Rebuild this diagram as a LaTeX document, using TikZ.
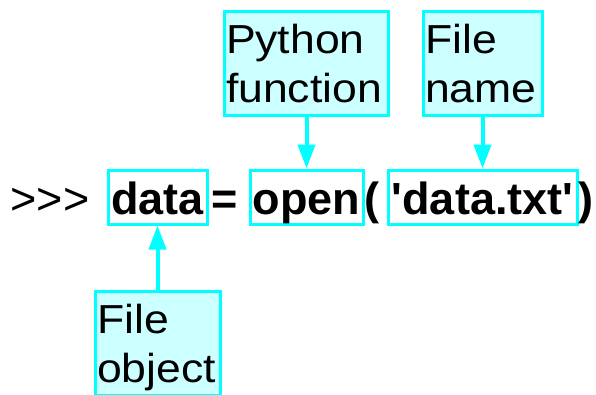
\documentclass[tikz,border=0pt]{standalone}
\usepackage{fontspec}
\setmainfont{Liberation Sans}[Ligatures=TeXOff]
\newfontfamily\labelfont{Liberation Sans}[FakeStretch=1.1,Ligatures=TeXOff]
\usetikzlibrary{arrows.meta}
\definecolor{boxcyan}{HTML}{00FFFF}
\definecolor{boxfill}{HTML}{CCFFFF}
\tikzset{
  codebox/.style={draw=boxcyan, line width=3pt, inner xsep=0pt, inner ysep=0pt,
    text height=44pt, text depth=10pt, anchor=base,
    font=\fontsize{45pt}{54pt}\selectfont\bfseries},
  codetext/.style={inner sep=0pt, anchor=base, font=\fontsize{45pt}{54pt}\selectfont},
  labelbox/.style={draw=boxcyan, fill=boxfill, line width=3pt, outer sep=0pt,
    inner xsep=2pt, inner ysep=0pt, align=left, anchor=north west,
    font=\labelfont\fontsize{40.5pt}{49pt}\selectfont},
  arr/.style={draw=boxcyan, line width=4pt, -{Triangle[length=24pt,width=17pt]}}
}
\newcommand{\topstrut}{\rule{0pt}{42pt}}
\newcommand{\botstrut}{\rule[-13pt]{0pt}{13pt}}
\begin{document}
\begin{tikzpicture}[x=1pt,y=-1pt]
\useasboundingbox (0,0) rectangle (596,394);
\clip (0,0) rectangle (596,394);
% code line
\node[codetext, anchor=base west] (prompt) at (10.5,214) {>>>};
\node[codebox, minimum width=99pt] (data) at (157.5,214) {data};
\node[codetext, font=\fontsize{45pt}{54pt}\selectfont\bfseries] (eq) at (225,214) {=};
\node[codebox, minimum width=113pt] (open) at (306.5,214) {open};
\node[codetext, font=\fontsize{45pt}{54pt}\selectfont\bfseries] (lp) at (372,214) {(};
\node[codebox, minimum width=189pt] (fname) at (482.5,214) {'data.txt'};
\node[codetext, font=\fontsize{45pt}{54pt}\selectfont\bfseries] (rp) at (586,214) {)};
% labels
\node[labelbox, text width=160pt] (pyf) at (224,11) {\topstrut Python\\function\botstrut};
\node[labelbox, text width=115pt] (fnm) at (423,11) {\topstrut File\\name\botstrut};
\node[labelbox, text width=121pt] (fobj) at (95,291) {\topstrut File\\object\botstrut};
% arrows
\draw[arr] (pyf.south -| open.north) -- (open.north);
\draw[arr] (fnm.south -| fname.north) -- (fname.north);
\draw[arr] (fobj.north -| data.south) -- (data.south);
\end{tikzpicture}
\end{document}
